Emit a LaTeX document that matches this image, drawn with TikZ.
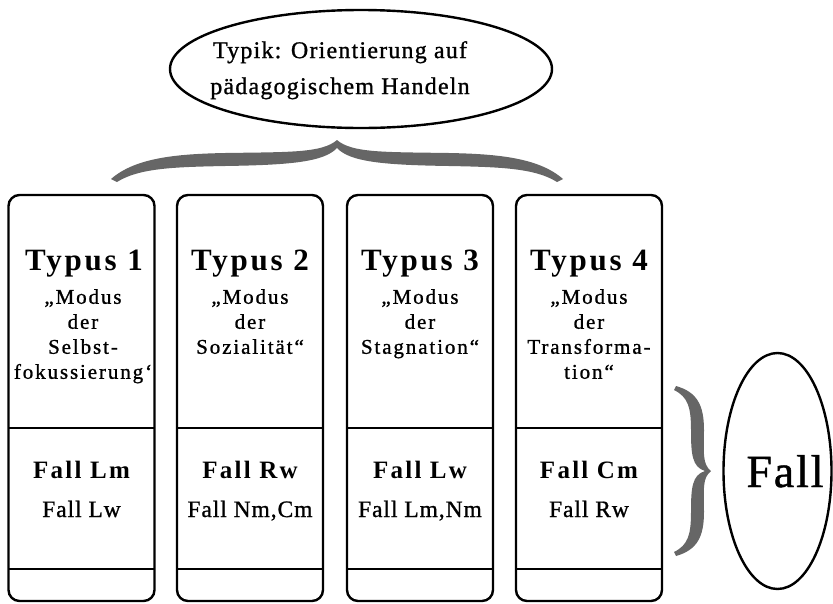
\documentclass[tikz,border=0pt]{standalone}
\usepackage{fontspec}
\setmainfont{Liberation Serif}
\usetikzlibrary{positioning,shapes.geometric}

\tikzset{
  typcol/.style={draw, line width=2.4pt, rounded corners=11pt, outer sep=0pt,
    minimum width=146pt, minimum height=406pt},
  divline/.style={line width=2pt},
  typhead/.style={anchor=base, inner sep=0pt,
    font={\fontsize{31}{31}\selectfont\bfseries\addfontfeatures{LetterSpace=9}}},
  modtext/.style={anchor=north, inner sep=0pt, align=center,
    font={\fontsize{21}{25}\selectfont\addfontfeatures{LetterSpace=9,FakeBold=1}}},
  fallmain/.style={anchor=base, inner sep=0pt,
    font={\fontsize{25}{25}\selectfont\bfseries\addfontfeatures{LetterSpace=9}}},
  fallmore/.style={anchor=base, inner sep=0pt,
    font={\fontsize{23.5}{23.5}\selectfont\addfontfeatures{LetterSpace=4,FakeBold=1}}},
  oval/.style={draw, ellipse, line width=2.4pt, inner sep=0pt},
  bracefill/.style={fill=black!60, draw=none},
}

\begin{document}
\begin{tikzpicture}[x=1pt, y=-1pt]
    \useasboundingbox (0,0) rectangle (833,603);

    % Typik oben
    \node[oval, minimum width=382pt, minimum height=118pt] (typik) at (361,69) {};
    \node[anchor=north, inner sep=0pt, align=center,
      font={\fontsize{24}{36}\selectfont\addfontfeatures{LetterSpace=5,FakeBold=1}}] (typiktext) at (340,41)
      {Typik: Orientierung auf\\pädagogischem Handeln};

    % geschweifte Klammer oben
    \fill[bracefill] (111,179) .. controls (135,158) and (175,154) .. (225,153)
      .. controls (290,152) and (322,153) .. (337,140)
      .. controls (352,153) and (384,152) .. (449,153)
      .. controls (499,154) and (539,158) .. (563,179)
      -- (557,182)
      .. controls (535,168) and (499,167) .. (449,166)
      .. controls (384,165) and (350,162) .. (337,148)
      .. controls (324,162) and (290,165) .. (225,166)
      .. controls (175,167) and (139,168) .. (117,182) -- cycle;

    % Spalten
    \node[typcol] (col1) at (81.5,398) {};
    \node[typcol] (col2) at (250,398) {};
    \node[typcol] (col3) at (420,398) {};
    \node[typcol] (col4) at (589,398) {};

    \draw[divline] ([yshift=-233pt]col1.north west) -- ([yshift=-233pt]col1.north east);
    \draw[divline] ([yshift=-374pt]col1.north west) -- ([yshift=-374pt]col1.north east);
    \draw[divline] ([yshift=-233pt]col2.north west) -- ([yshift=-233pt]col2.north east);
    \draw[divline] ([yshift=-374pt]col2.north west) -- ([yshift=-374pt]col2.north east);
    \draw[divline] ([yshift=-233pt]col3.north west) -- ([yshift=-233pt]col3.north east);
    \draw[divline] ([yshift=-374pt]col3.north west) -- ([yshift=-374pt]col3.north east);
    \draw[divline] ([yshift=-233pt]col4.north west) -- ([yshift=-233pt]col4.north east);
    \draw[divline] ([yshift=-374pt]col4.north west) -- ([yshift=-374pt]col4.north east);

    % Typen
    \node[typhead] (head1) at (84,270) {Typus 1};
    \node[modtext] (mod1) at (83,289) {„Modus\\der\\Selbst-\\fokussierung‘};
    \node[fallmain] (fall1) at (81.5,478) {Fall Lm};
    \node[fallmore] (more1) at (81.5,517) {Fall Lw};

    \node[typhead] (head2) at (250,270) {Typus 2};
    \node[modtext] (mod2) at (250,289) {„Modus\\der\\Sozialität“};
    \node[fallmain] (fall2) at (250,478) {Fall Rw};
    \node[fallmore] (more2) at (250,517) {Fall Nm,Cm};

    \node[typhead] (head3) at (420,270) {Typus 3};
    \node[modtext] (mod3) at (420,289) {„Modus\\der\\Stagnation“};
    \node[fallmain] (fall3) at (420,478) {Fall Lw};
    \node[fallmore] (more3) at (420,517) {Fall Lm,Nm};

    \node[typhead] (head4) at (589,270) {Typus 4};
    \node[modtext] (mod4) at (589,289) {„Modus\\der\\Transforma-\\tion“};
    \node[fallmain] (fall4) at (589,478) {Fall Cm};
    \node[fallmore] (more4) at (589,517) {Fall Rw};

    % Klammer rechts und Fall
    \fill[bracefill] (676,386) .. controls (697,392) and (704,405) .. (704,430)
      .. controls (704,452) and (702,464) .. (711,471)
      .. controls (702,478) and (704,490) .. (704,512)
      .. controls (704,537) and (697,550) .. (676,556)
      -- (674,552)
      .. controls (688,545) and (691,535) .. (691,512)
      .. controls (691,488) and (692,475) .. (705,471)
      .. controls (692,467) and (691,454) .. (691,430)
      .. controls (691,407) and (688,397) .. (674,390) -- cycle;

    \node[oval, minimum width=108pt, minimum height=236pt] (fall) at (777.5,471) {};
    \node[inner sep=0pt, anchor=base,
      font={\fontsize{46}{46}\selectfont\addfontfeatures{LetterSpace=4,FakeBold=1}}] (falltext) at (785,487) {Fall};
\end{tikzpicture}
\end{document}
